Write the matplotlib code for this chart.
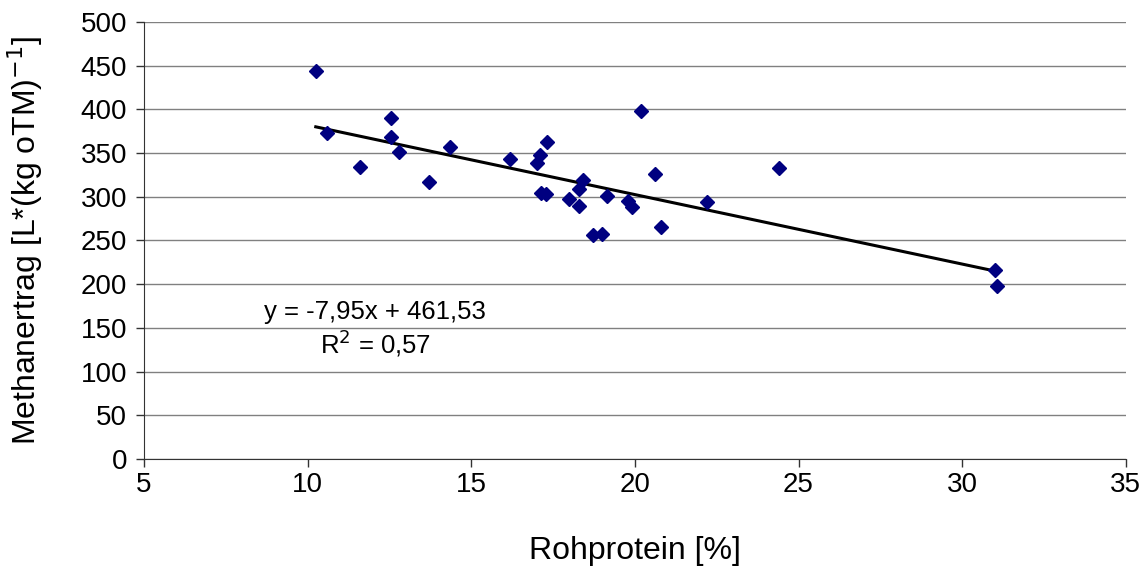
import numpy as np
import matplotlib.pyplot as plt

plt.rcParams['font.family'] = ['Liberation Sans', 'DejaVu Sans']

# Rohprotein [%] und Methanertrag [L*(kg oTM)^-1]
rohprotein = [10.25, 10.6, 11.6, 12.55, 12.55, 12.8, 13.7, 14.35, 16.2, 17.0,
              17.1, 17.33, 17.13, 17.3, 18.0, 18.3, 18.4, 18.3, 18.73, 19.0,
              19.14, 19.8, 19.9, 20.2, 20.6, 20.8, 22.2, 24.4, 31.0, 31.05]
methan = [444, 372.6, 333.7, 390.5, 368.8, 351, 317.3, 357.4, 342.9, 338.3,
          347.5, 363, 304.3, 303.2, 298, 309, 319, 289, 256, 257,
          300.6, 295.6, 288, 398, 326.5, 265, 294, 333.3, 216, 198.5]

# Trendlinie aus der Gleichung im Diagramm
slope = -7.95
intercept = 461.53
r2 = 0.57

fig = plt.figure(figsize=(11.47, 5.68), dpi=100)
ax = fig.add_axes([0.1255, 0.1919, 0.856, 0.7694])

ax.set_xlim(5, 35)
ax.set_ylim(0, 500)
ax.set_xticks(np.arange(5, 36, 5))
ax.set_yticks(np.arange(0, 501, 50))
ax.yaxis.grid(True, color='#808080', linewidth=1.0)
ax.set_axisbelow(True)

for s in ['top', 'right']:
    ax.spines[s].set_visible(False)
for s in ['left', 'bottom']:
    ax.spines[s].set_color('#333333')
ax.tick_params(axis='both', direction='out', length=6, width=1, color='#333333',
               labelsize=20)
ax.tick_params(axis='x', pad=3)
ax.tick_params(axis='y', pad=6)

xl = np.array([min(rohprotein), max(rohprotein)])
ax.plot(xl, slope * xl + intercept, color='black', linewidth=2.2, zorder=2)
ax.plot(rohprotein, methan, linestyle='none', marker='D', markersize=7.5,
        color='#000080', zorder=3)

ax.text(12.06, 168, 'y = -7,95x + 461,53', fontsize=18.5, ha='center', va='center')
ax.text(12.06, 133, 'R$^2$ = 0,57', fontsize=18.5, ha='center', va='center')

ax.set_xlabel('Rohprotein [%]', fontsize=23, labelpad=28)
ax.set_ylabel('Methanertrag [L*(kg oTM)$^{-1}$]', fontsize=23, labelpad=26)

fig.savefig('out.png', dpi=100)
